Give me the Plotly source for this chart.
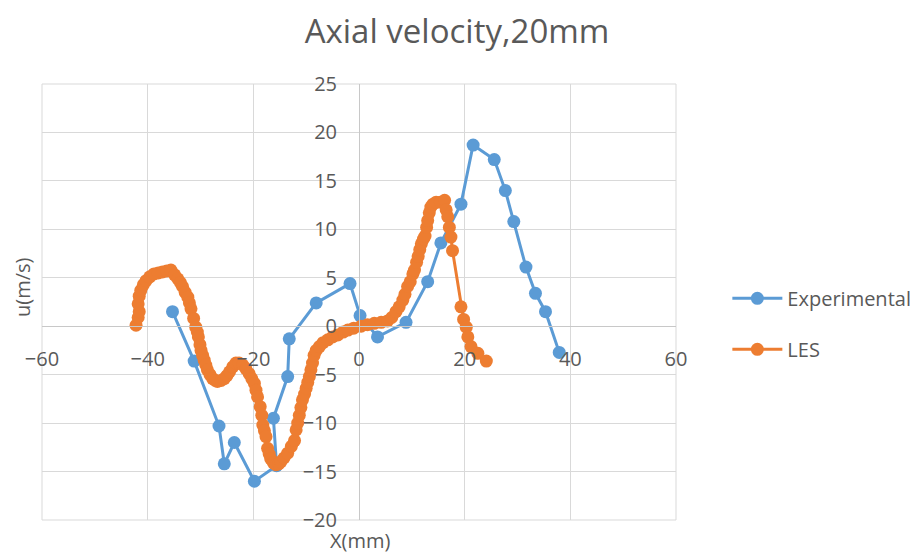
import plotly.graph_objects as go

# ---------------- data ----------------
exp_x = [-35.3, -31.2, -26.5, -25.5, -23.6, -19.8, -15.6, -16.2, -13.5, -13.2, -8.1, -1.7,
         0.2, 3.5, 8.9, 13.0, 15.5, 19.3, 21.6, 25.6, 27.7, 29.3, 31.6, 33.4, 35.3, 37.9]
exp_u = [1.5, -3.6, -10.3, -14.2, -12.0, -16.0, -14.4, -9.5, -5.2, -1.3, 2.4, 4.4,
         1.1, -1.1, 0.4, 4.6, 8.6, 12.6, 18.7, 17.2, 14.0, 10.8, 6.1, 3.4, 1.5, -2.7]

les_x = [-42.2, -41.8, -41.6, -41.8, -41.6, -41.3, -40.8, -40.3, -39.6, -38.8, -38.0, -37.2,
         -36.4, -35.6, -34.9, -34.3, -33.8, -33.4, -32.9, -32.4, -32.1, -31.8, -31.3, -30.9,
         -30.6, -30.4, -30.1, -29.9, -29.6, -29.3, -29.0, -28.7, -28.2, -27.7, -27.2, -26.8,
         -26.1, -25.5, -25.0, -24.5, -23.9, -23.3, -22.7, -22.0, -21.4, -20.8, -20.3, -19.8,
         -19.5, -19.2, -18.7, -18.4, -18.2, -17.9, -17.6, -17.3, -17.0, -16.7, -16.2, -15.7,
         -15.2, -14.8, -14.2, -13.5, -12.8, -12.2, -11.9, -11.6, -11.3, -11.0, -10.7, -10.3,
         -10.0, -9.7, -9.4, -9.1, -8.8, -8.5, -8.1, -7.5, -6.8, -5.9, -5.0, -4.0, -3.0, -2.1,
         -1.0, 0.4, 1.6, 2.9, 4.2, 5.4, 6.2, 7.0, 7.6, 8.3, 8.7, 9.2, 9.7, 10.2, 10.5, 10.9,
         11.2, 11.5, 11.8, 12.2, 12.5, 12.8, 13.0, 13.3, 13.6, 14.0, 14.6, 15.4, 16.2, 16.5,
         16.8, 17.1, 17.4, 17.7, 19.3, 19.8, 20.3, 20.6, 21.2, 22.5, 24.1]
les_u = [0.1, 0.9, 1.5, 2.3, 3.1, 3.7, 4.3, 4.7, 5.1, 5.4, 5.5, 5.6,
         5.7, 5.8, 5.3, 4.9, 4.5, 4.1, 3.5, 3.0, 2.4, 1.8, 0.8, -0.1,
         -0.6, -1.1, -1.9, -2.5, -3.0, -3.5, -4.0, -4.5, -5.0, -5.4, -5.6, -5.7,
         -5.6, -5.4, -5.1, -4.7, -4.2, -3.8, -3.8, -4.0, -4.4, -4.9, -5.4, -5.9,
         -6.6, -7.3, -8.3, -9.2, -10.2, -10.8, -11.4, -12.6, -13.2, -13.7, -14.1, -14.3,
         -14.2, -14.0, -13.6, -13.1, -12.4, -11.8, -10.7, -10.0, -9.2, -8.4, -7.6, -7.0,
         -6.4, -5.8, -5.2, -4.5, -3.8, -3.0, -2.5, -2.1, -1.7, -1.4, -1.1, -0.9, -0.6, -0.4,
         -0.2, 0.0, 0.15, 0.3, 0.4, 0.55, 0.9, 1.5, 2.0, 2.7, 3.3, 4.1, 4.6, 5.4, 5.8, 6.6,
         7.2, 7.9, 8.5, 9.0, 9.3, 10.2, 10.9, 11.7, 12.3, 12.6, 12.8, 12.8, 13.0, 12.0,
         11.3, 10.2, 9.2, 7.8, 2.0, 0.7, -0.1, -1.1, -2.1, -2.8, -3.6]

x_ticks = [-60, -40, -20, 0, 20, 40, 60]
y_ticks = [-20, -15, -10, -5, 0, 5, 10, 15, 20, 25]

BLUE = "#5B9BD5"
ORANGE = "#ED7D31"
GRAY = "#595959"
GRID = "#D9D9D9"
FONT = "Open Sans"

fig = go.Figure()
fig.add_trace(go.Scatter(x=exp_x, y=exp_u, name="Experimental", mode="lines+markers",
                         line=dict(color=BLUE, width=3), marker=dict(color=BLUE, size=13),
                         legendgroup="a"))
fig.add_trace(go.Scatter(x=les_x, y=les_u, name="LES", mode="lines+markers",
                         line=dict(color=ORANGE, width=3), marker=dict(color=ORANGE, size=13),
                         legendgroup="b"))

y0 = (0 - y_ticks[0]) / (y_ticks[-1] - y_ticks[0])

fig.update_layout(
    width=922, height=554,
    margin=dict(l=42, r=246, t=84, b=34, autoexpand=False),
    paper_bgcolor="white", plot_bgcolor="white",
    font=dict(family=FONT, color=GRAY, size=20),
    title=dict(text="Axial velocity,20mm", x=457 / 922, y=1 - 31 / 554,
               xref="container", yref="container", xanchor="center", yanchor="middle",
               font=dict(size=33, color=GRAY, family=FONT)),
    xaxis=dict(range=[x_ticks[0], x_ticks[-1]], tickvals=x_ticks, showgrid=True,
               gridcolor=GRID, gridwidth=1, zeroline=False, showline=True,
               linecolor="#C8C8C8", linewidth=1, anchor="free", position=y0,
               ticks="", ticklabelstandoff=15, tickfont=dict(size=20, color=GRAY)),
    yaxis=dict(range=[y_ticks[0], y_ticks[-1]], tickvals=y_ticks, showgrid=True,
               gridcolor=GRID, gridwidth=1, zeroline=False, showline=True,
               linecolor="#C8C8C8", linewidth=1, anchor="free", position=0.5,
               ticks="", ticklabelstandoff=18, tickfont=dict(size=20, color=GRAY)),
    legend=dict(x=1.081, y=0.45, xanchor="left", yanchor="middle",
                font=dict(size=20, color=GRAY, family=FONT), tracegroupgap=22,
                bgcolor="rgba(0,0,0,0)", itemwidth=50),
    showlegend=True,
)

fig.add_shape(type="rect", xref="paper", yref="paper", x0=0, y0=0, x1=1, y1=1,
              line=dict(color=GRID, width=1), layer="below")

fig.add_annotation(text="u(m/s)", xref="paper", yref="paper", x=(22 - 42) / 634,
                   y=(520 - 287) / 436, textangle=-90, showarrow=False,
                   font=dict(size=20, color=GRAY, family=FONT),
                   xanchor="center", yanchor="middle")
fig.add_annotation(text="X(mm)", xref="paper", yref="paper", x=(360 - 42) / 634,
                   y=(520 - 540) / 436, showarrow=False,
                   font=dict(size=20, color=GRAY, family=FONT),
                   xanchor="center", yanchor="middle")

fig.write_html("out.html")
